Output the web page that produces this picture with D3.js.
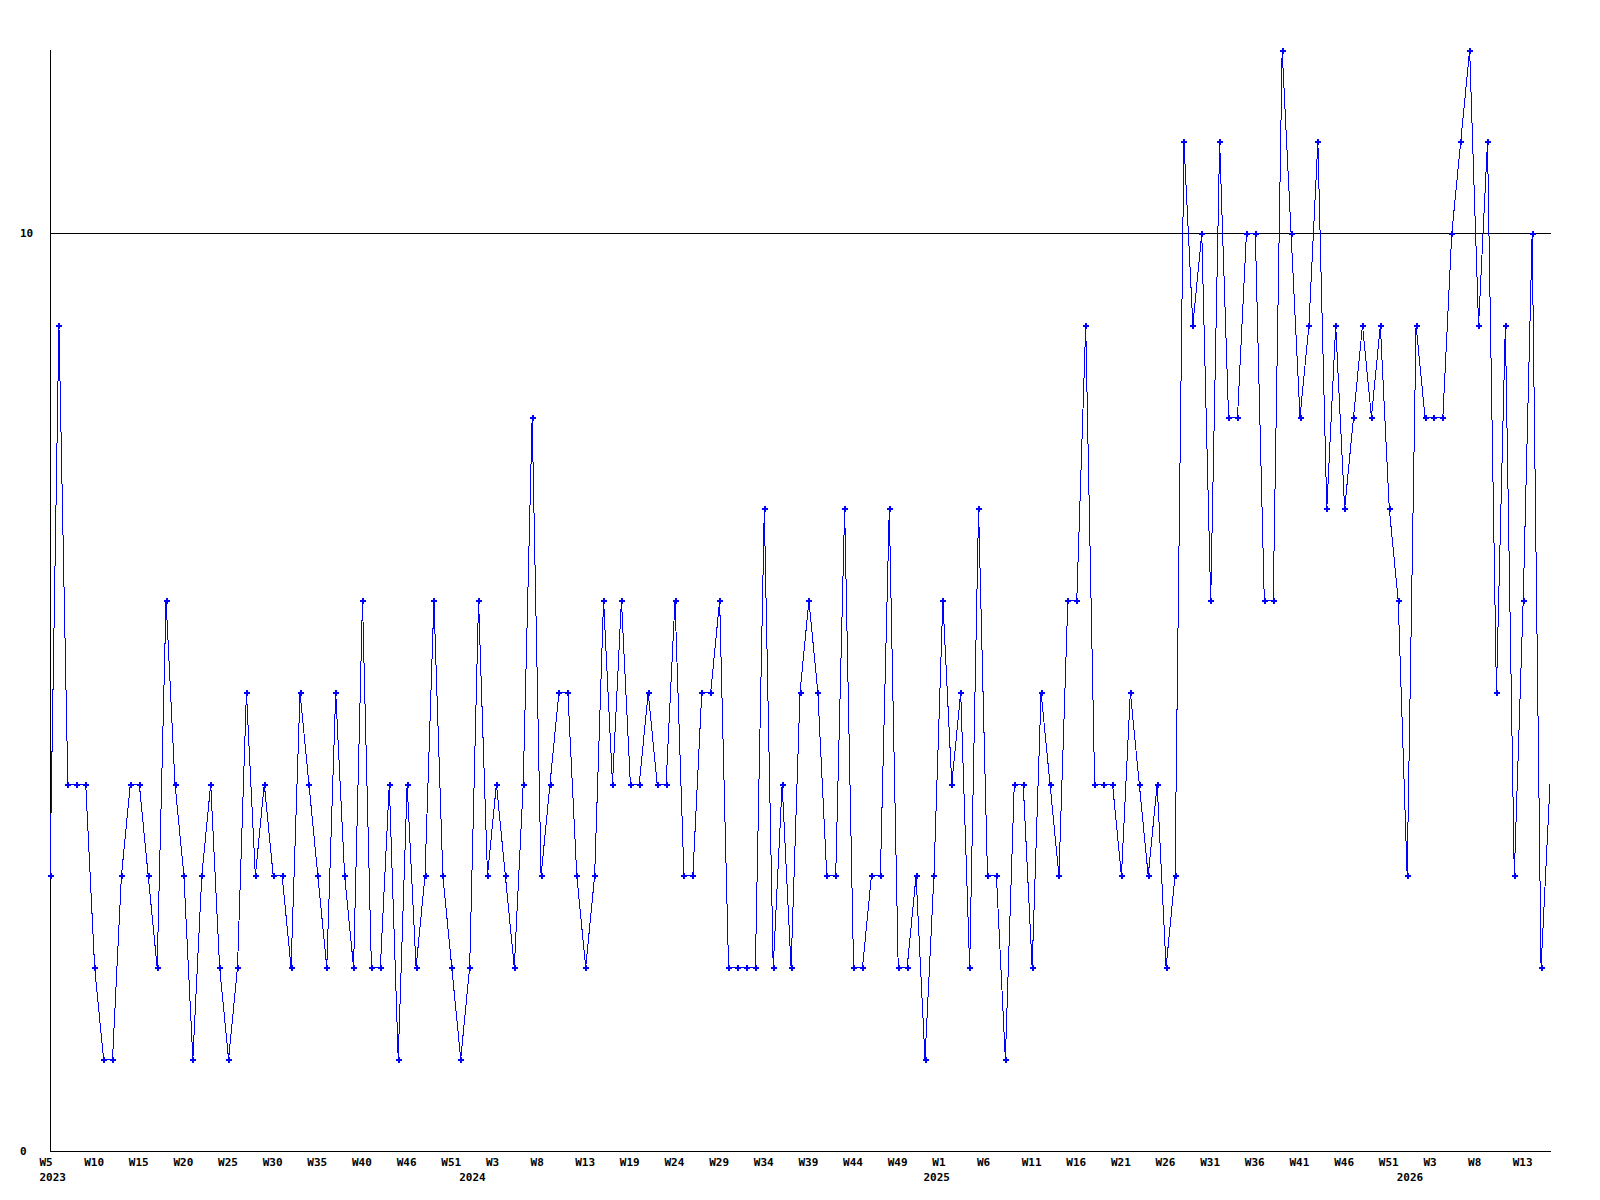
<!DOCTYPE html>
<html>
<head>
<meta charset="utf-8">
<script src="https://cdn.jsdelivr.net/npm/d3@7"></script>
<style>
  body { margin: 0; background: #fff; }
  text { font-family: "DejaVu Sans Mono", monospace; font-weight: bold; font-size: 11px; fill: #000; }
</style>
</head>
<body>
<div id="chart"></div>
<script>
// weekly values, first point is 2023 W5
let values = [3,9,4,4,4,2,1,1,3,4,4,3,2,6,4,3,1,3,4,2,1,2,5,3,4,3,3,2,5,4,
    3,2,5,3,2,6,2,2,4,1,4,2,3,6,3,2,1,2,6,3,4,3,2,4,8,3,4,5,5,3,
    2,3,6,4,6,4,4,5,4,4,6,3,3,5,5,6,2,2,2,2,7,2,4,2,5,6,5,3,3,7,
    2,2,3,3,7,2,2,3,1,3,6,4,5,2,7,3,3,1,4,4,2,5,4,3,6,6,9,4,4,4,
    3,5,4,3,4,2,3,11,9,10,6,11,8,8,10,10,6,6,12,10,8,9,11,7,9,7,8,9,8,9,
    7,6,3,9,8,8,8,10,11,12,9,11,5,9,3,6,10,2,4]

let weekTicks = [0,5,10,15,20,25,30,35,40,45,50,55,60,65,70,75,80,85,90,95,
    100,105,110,115,120,125,130,135,140,145,150,155,160,165]
let weekLabels = ["W5","W10","W15","W20","W25","W30","W35","W40","W46","W51","W3","W8",
    "W13","W19","W24","W29","W34","W39","W44","W49","W1","W6","W11","W16","W21",
    "W26","W31","W36","W41","W46","W51","W3","W8","W13"]
let yearTicks = [0,47,99,152]
let yearLabels = ["2023","2024","2025","2026"]
let yTicks = [0,10]

var width = 1600, height = 1200

var svg = d3.select("#chart")
    .append("svg")
    .attr("width", width)
    .attr("height", height)

var x = d3.scaleLinear().domain([0, values.length - 1]).range([50, 1550])
var y = d3.scaleLinear().domain([0, 12]).range([1151, 50])

// axes
svg.append("line")
    .attr("x1", 50).attr("x2", 50)
    .attr("y1", y(12)).attr("y2", y(0))
    .attr("stroke", "#000").attr("shape-rendering", "crispEdges")

svg.selectAll(".grid")
    .data(yTicks)
    .enter()
    .append("line")
    .attr("x1", 50).attr("x2", 1551)
    .attr("y1", d => Math.round(y(d))).attr("y2", d => Math.round(y(d)))
    .attr("stroke", "#000").attr("shape-rendering", "crispEdges")

svg.selectAll(".ylab")
    .data(yTicks)
    .enter()
    .append("text")
    .attr("x", 20)
    .attr("y", d => y(d))
    .attr("dy", "0.36em")
    .text(d => d)

svg.selectAll(".wlab")
    .data(weekTicks)
    .enter()
    .append("text")
    .attr("x", d => x(d) - 10.5)
    .attr("y", 1166)
    .text((d, i) => weekLabels[i])

svg.selectAll(".ylab2")
    .data(yearTicks)
    .enter()
    .append("text")
    .attr("x", d => x(d) - 10.5)
    .attr("y", 1181)
    .text((d, i) => yearLabels[i])

// the series
var line = d3.line()
    .x((d, i) => x(i))
    .y(d => y(d))

svg.append("path")
    .datum(values)
    .attr("d", line)
    .attr("fill", "none")
    .attr("stroke", "#0000ff")
    .attr("stroke-width", 1)
    .attr("shape-rendering", "crispEdges")

// markers (last one sits on the edge and is not drawn)
svg.selectAll(".pt")
    .data(values.slice(0, values.length - 1))
    .enter()
    .append("path")
    .attr("transform", (d, i) => "translate(" + (Math.floor(x(i)) + 0.5) + "," + (Math.floor(y(d)) + 0.5) + ")")
    .attr("d", d3.symbol().type(d3.symbolCross).size(20))
    .attr("fill", "#0000ff")
    .attr("shape-rendering", "crispEdges")
</script>
</body>
</html>
